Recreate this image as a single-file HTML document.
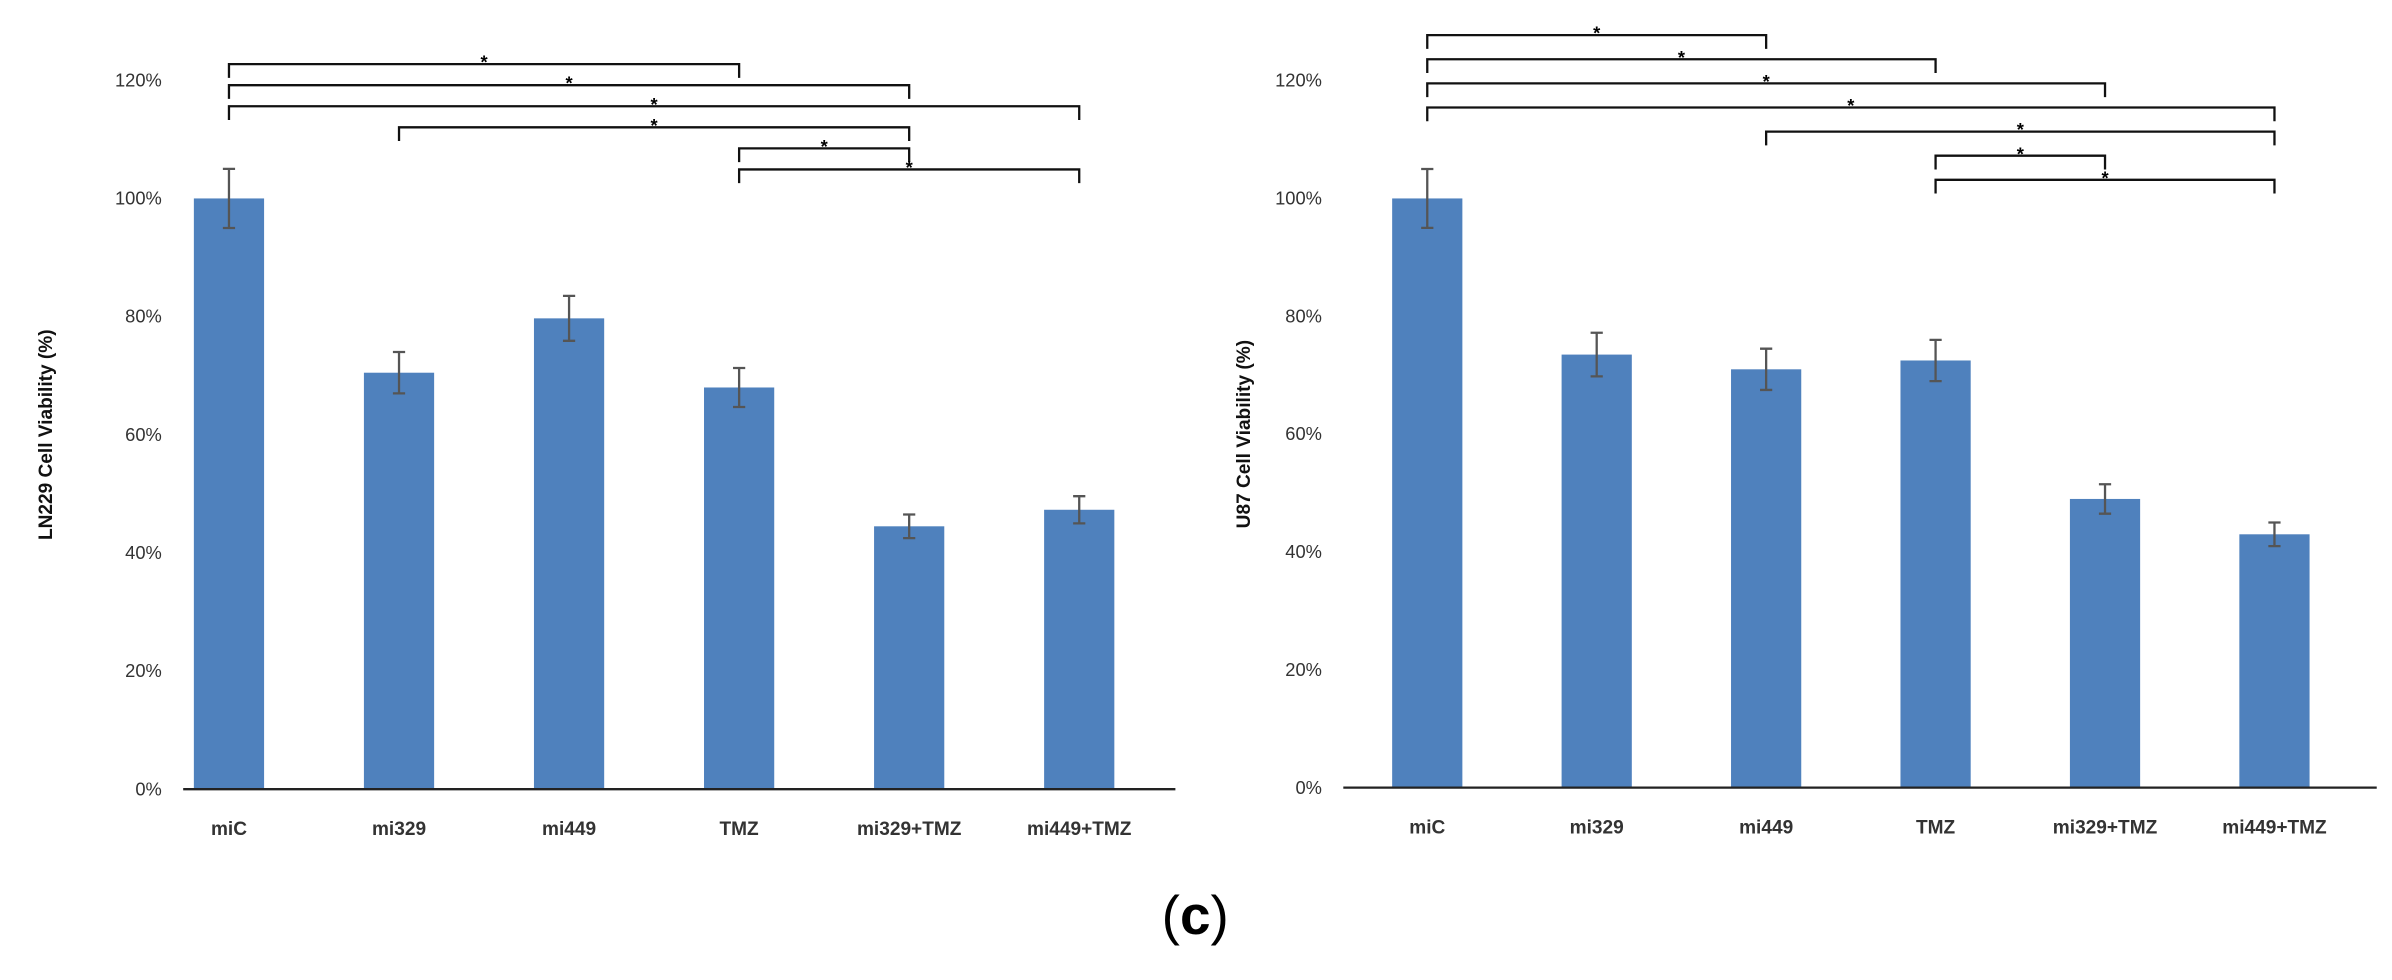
<!DOCTYPE html>
<html><head><meta charset="utf-8"><style>
html,body{margin:0;padding:0;background:#fff;width:2392px;height:980px;overflow:hidden}
svg{display:block}
text{font-family:"Liberation Sans",sans-serif}
</style></head><body>
<svg id="fig" width="2392" height="980" viewBox="0 0 1567 642" preserveAspectRatio="none" xmlns="http://www.w3.org/2000/svg">
<text x="783" y="612" text-anchor="middle" font-family="Liberation Serif, serif" font-size="36">(<tspan font-weight="bold">c</tspan>)</text>
</svg>
<script>
const categories = ["miC","mi329","mi449","TMZ","mi329+TMZ","mi449+TMZ"];
const ln229Values = [100,70.5,79.7,68,44.5,47.3];
const ln229Errors = [5,3.5,3.8,3.3,2,2.3];
const u87Values = [100,73.5,71,72.5,49,43];
const u87Errors = [5,3.7,3.5,3.5,2.5,2];
const yTicks = [0,20,40,60,80,100,120];
const ln229Brackets = [[0,3],[0,4],[0,5],[1,4],[3,4],[3,5]];
const u87Brackets = [[0,2],[0,3],[0,4],[0,5],[2,5],[3,4],[3,5]];

const svg = document.getElementById('fig');
const NS = 'http://www.w3.org/2000/svg';
function mk(tag, attrs, parent){const e=document.createElementNS(NS,tag);for(const k in attrs)e.setAttribute(k,attrs[k]);parent.appendChild(e);return e;}

function drawChart(cfg){
  const g = mk('g',{},svg);
  
  
  const y = v => cfg.y0 - v/100*(cfg.y0-cfg.y100);
  const step = (cfg.xLast-cfg.xFirst)/(categories.length-1);
  const x = i => cfg.xFirst + i*step;
  yTicks.forEach(t=>{
    const tx = mk('text',{x:cfg.tickX,y:y(t)+4,'text-anchor':'end','font-size':12,fill:'#333'},g);
    tx.textContent = t+'%';
    
    
  });
  const tt = mk('text',{transform:`translate(${cfg.titleX},${y(60)}) rotate(-90)`,'text-anchor':'middle','font-size':12.5,'font-weight':'bold',fill:'#111'},g);
  tt.textContent = cfg.title;
  
  
  categories.forEach((c,i)=>{
    const v = cfg.values[i], e = cfg.errors[i], cx = x(i);
    const b = mk('rect',{x:cx-23,y:y(v),width:46,height:y(0)-y(v),fill:'#4f81bd'},g);
    
    
    const eb = mk('path',{d:`M${cx},${y(v+e)}V${y(v-e)}M${cx-4},${y(v+e)}H${cx+4}M${cx-4},${y(v-e)}H${cx+4}`,stroke:'#555','stroke-width':1.5,fill:'none'},g);
    
    
    const lb = mk('text',{x:cx,y:cfg.y0+30,'text-anchor':'middle','font-size':12.5,'font-weight':'bold',fill:'#333'},g);
    lb.textContent = c;
    
    
  });
  const ax = mk('line',{x1:cfg.axisL,x2:cfg.axisR,y1:cfg.y0,y2:cfg.y0,stroke:'#222','stroke-width':1.5},g);
  
  
  cfg.brackets.forEach((br,k)=>{
    const by = cfg.bTop + k*cfg.bStep, a = x(br[0]), bb = x(br[1]);
    const p = mk('path',{d:`M${a},${by+9}V${by}H${bb}V${by+9}`,stroke:'#111','stroke-width':1.5,fill:'none'},g);
    
    
    const s = mk('text',{x:(a+bb)/2,y:by+3,'text-anchor':'middle','font-size':12,'font-weight':'bold'},g);
    s.textContent = '*';
    
    
  });
}
drawChart({name:'ln229-chart',title:'LN229 Cell Viability (%)',values:ln229Values,errors:ln229Errors,brackets:ln229Brackets,
  y0:517,y100:130,xFirst:150,xLast:707,axisL:120,axisR:770,tickX:106,titleX:34,bTop:42,bStep:13.8});
drawChart({name:'u87-chart',title:'U87 Cell Viability (%)',values:u87Values,errors:u87Errors,brackets:u87Brackets,
  y0:516,y100:130,xFirst:935,xLast:1490,axisL:880,axisR:1557,tickX:866,titleX:819,bTop:23,bStep:15.8});
</script>
</body></html>
